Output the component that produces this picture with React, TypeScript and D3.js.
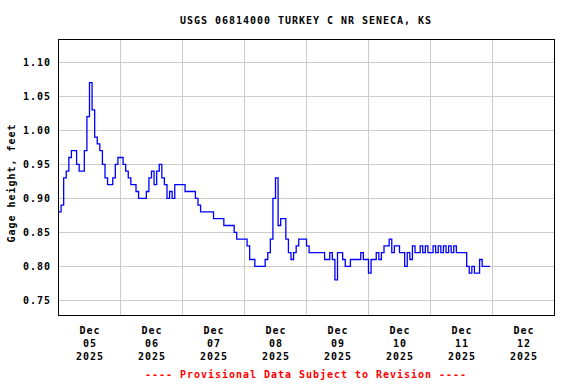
import React from "react";
import * as d3 from "d3";

// hourly gage height, feet, starting Dec 05 2025 00:00
const startTime = Date.UTC(2025, 11, 5, 0, 0);
const gageHeight = [
  // Dec 05
  0.88, 0.89, 0.93, 0.94, 0.96, 0.97, 0.97, 0.95, 0.94, 0.94, 0.97, 1.02,
  1.07, 1.03, 0.99, 0.98, 0.97, 0.95, 0.93, 0.92, 0.92, 0.93, 0.95, 0.96,
  // Dec 06
  0.96, 0.95, 0.94, 0.93, 0.92, 0.92, 0.91, 0.90, 0.90, 0.90, 0.91, 0.93,
  0.94, 0.92, 0.94, 0.95, 0.93, 0.92, 0.90, 0.91, 0.90, 0.92, 0.92, 0.92,
  // Dec 07
  0.92, 0.91, 0.91, 0.91, 0.91, 0.90, 0.89, 0.88, 0.88, 0.88, 0.88, 0.88,
  0.87, 0.87, 0.87, 0.87, 0.86, 0.86, 0.86, 0.86, 0.85, 0.84, 0.84, 0.84,
  // Dec 08
  0.84, 0.83, 0.81, 0.81, 0.80, 0.80, 0.80, 0.80, 0.81, 0.82, 0.84, 0.90,
  0.93, 0.86, 0.87, 0.87, 0.84, 0.82, 0.81, 0.82, 0.83, 0.84, 0.84, 0.84,
  // Dec 09
  0.83, 0.82, 0.82, 0.82, 0.82, 0.82, 0.82, 0.81, 0.81, 0.82, 0.81, 0.78,
  0.82, 0.82, 0.81, 0.80, 0.80, 0.81, 0.81, 0.81, 0.81, 0.82, 0.81, 0.81,
  // Dec 10
  0.79, 0.81, 0.81, 0.82, 0.81, 0.82, 0.83, 0.83, 0.84, 0.82, 0.83, 0.83,
  0.82, 0.82, 0.80, 0.82, 0.81, 0.83, 0.82, 0.82, 0.83, 0.82, 0.83, 0.82,
  // Dec 11
  0.82, 0.83, 0.82, 0.83, 0.82, 0.83, 0.82, 0.83, 0.82, 0.83, 0.82, 0.82,
  0.82, 0.82, 0.80, 0.79, 0.80, 0.79, 0.79, 0.81, 0.80, 0.80, 0.80, 0.80,
];

const yTicks = [0.75, 0.8, 0.85, 0.9, 0.95, 1.0, 1.05, 1.1];
const dayLabels = ["05", "06", "07", "08", "09", "10", "11", "12"];

const font = "'DejaVu Sans Mono', 'Liberation Mono', monospace";

const App = () => {
  const width = 576;
  const height = 384;
  const left = 58.5;
  const right = 554.5;
  const top = 39.5;
  const bottom = 315.5;

  const x = d3
    .scaleUtc()
    .domain([new Date(startTime), new Date(Date.UTC(2025, 11, 13))])
    .range([left, right]);

  const y = d3.scaleLinear().domain([0.72765, 1.13353]).range([bottom, top]);

  const days = d3.utcDay.range(new Date(startTime), new Date(Date.UTC(2025, 11, 13)));

  const line = d3
    .line<number>()
    .x((_, i) => x(new Date(startTime + i * 3600 * 1000)))
    .y((d) => y(d))
    .curve(d3.curveStepAfter);

  const snap = (v: number) => Math.round(v - 0.5) + 0.5;

  return (
    <svg
      width={width}
      height={height}
      style={{ position: "absolute", left: 0, top: 0, background: "#fff" }}
    >
      <rect x={0} y={0} width={width} height={height} fill="#fff" />
      <text
        x={306}
        y={24.3}
        textAnchor="middle"
        fontFamily={font}
        fontWeight="bold"
        fontSize={10}
        letterSpacing={0.98}
      >
        USGS 06814000 TURKEY C NR SENECA, KS
      </text>

      {/* grid */}
      <g stroke="#cccccc" strokeWidth={1} shapeRendering="crispEdges">
        {yTicks.map((t) => (
          <line key={t} x1={left} x2={right} y1={snap(y(t))} y2={snap(y(t))} />
        ))}
        {days.slice(1).map((d) => (
          <line key={+d} x1={snap(x(d))} x2={snap(x(d))} y1={top} y2={bottom} />
        ))}
      </g>

      <path
        d={line(gageHeight) ?? ""}
        fill="none"
        stroke="#0000ff"
        strokeWidth={1.3}
      />

      <rect
        x={left}
        y={top}
        width={right - left}
        height={bottom - top}
        fill="none"
        stroke="#000"
        strokeWidth={1}
        shapeRendering="crispEdges"
      />

      {/* y tick labels */}
      <g fontFamily={font} fontWeight="bold" fontSize={10} letterSpacing={0.98}>
        {yTicks.map((t) => (
          <text key={t} x={51} y={y(t) + 3.7} textAnchor="end">
            {d3.format(".2f")(t)}
          </text>
        ))}
      </g>

      <text
        transform="translate(14.5,183) rotate(-90)"
        textAnchor="middle"
        fontFamily={font}
        fontWeight="bold"
        fontSize={10}
        letterSpacing={0.98}
      >
        Gage height, feet
      </text>

      {/* x labels */}
      <g fontFamily={font} fontWeight="bold" fontSize={10} letterSpacing={0.98} textAnchor="middle">
        {days.map((d, i) => {
          const cx = x(d3.utcHour.offset(d, 12)) + 0.5;
          return (
            <g key={+d}>
              <text x={cx} y={334}>Dec</text>
              <text x={cx} y={347}>{dayLabels[i]}</text>
              <text x={cx} y={360}>2025</text>
            </g>
          );
        })}
      </g>

      <text
        x={306}
        y={377.5}
        textAnchor="middle"
        fontFamily={font}
        fontWeight="bold"
        fontSize={10}
        letterSpacing={0.98}
        fill="#ff0000"
      >
        ---- Provisional Data Subject to Revision ----
      </text>
    </svg>
  );
};

export default App;
